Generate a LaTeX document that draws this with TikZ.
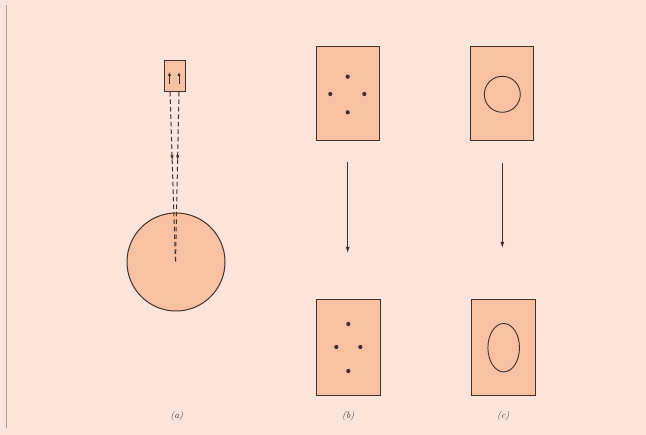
\documentclass[tikz,border=0pt]{standalone}
\usetikzlibrary{arrows.meta,decorations.markings}
\definecolor{paper}{HTML}{FDE4DA}
\definecolor{slab}{HTML}{F8C2A2}
\definecolor{ink}{HTML}{3E302C}
\definecolor{edge}{HTML}{A89E99}
\tikzset{
  plate/.style={draw=ink, line width=1pt, fill=slab, inner sep=0pt},
  spot/.style={circle, fill=ink, inner sep=0pt, minimum size=4.2pt},
  ray/.style={draw=ink, line width=1pt, dash pattern=on 4.5pt off 3pt},
  raytip/.style={postaction={decorate}, decoration={markings,
      mark=at position #1 with {\arrow{Latex[length=5pt,width=3.4pt]}}}},
  flow/.style={draw=ink, line width=0.8pt, -{Latex[length=6pt,width=3.8pt]}},
  caption/.style={font=\fontsize{9.5}{11}\selectfont\itshape, text=ink}
}
\begin{document}
\begin{tikzpicture}[x=1pt, y=-1pt]
  \useasboundingbox (0,0) rectangle (646,435);
  \fill[paper] (0,0) rectangle (646,435);
  \draw[edge, line width=1.2pt] (6.5,5) -- (6.5,428);

  % (a) small source block and the disk below it
  \node[plate, circle, minimum size=98pt] (disk) at (176,262) {};
  \node[plate, minimum width=21pt, minimum height=31pt] (src) at (174.5,76.5) {};
  \coordinate (focus) at (175.5,263);
  \coordinate (l0) at (170,92);
  \coordinate (r0) at (179,92);
  \draw[ray, raytip=0.4] (l0) -- (focus);
  \draw[ray, raytip=0.4] (r0) -- (focus);
  \coordinate (la) at (169.5,84);
  \coordinate (lb) at (169.5,72);
  \coordinate (ra) at (179,84);
  \coordinate (rb) at (179,72);
  \draw[draw=ink, line width=1pt, -{Latex[length=4pt,width=3.4pt]}] (la) -- (lb);
  \draw[draw=ink, line width=1pt, -{Latex[length=4pt,width=3.4pt]}] (ra) -- (rb);

  % (b) four dots before and after
  \node[plate, minimum width=63pt, minimum height=94pt] (b1) at (347.5,94) {};
  \node[spot] (b1n) at (347.7,76.7) {};
  \node[spot] (b1w) at (330.3,94) {};
  \node[spot] (b1e) at (364.3,94) {};
  \node[spot] (b1s) at (347.7,112.3) {};
  \node[plate, minimum width=64pt, minimum height=96pt] (b2) at (348,348) {};
  \node[spot] (b2n) at (348.3,324) {};
  \node[spot] (b2w) at (336.3,347) {};
  \node[spot] (b2e) at (360.3,347) {};
  \node[spot] (b2s) at (348.3,371) {};
  \coordinate (bt) at (347.7,162);
  \coordinate (bh) at (347.7,253);
  \draw[flow] (bt) -- (bh);

  % (c) circle before, ellipse after
  \node[plate, minimum width=63pt, minimum height=94pt] (c1) at (502.4,94) {};
  \draw[ink, line width=0.9pt] (502.3,94.3) circle (18pt);
  \node[plate, minimum width=64pt, minimum height=96pt] (c2) at (503.7,348) {};
  \draw[ink, line width=0.9pt] (503.7,347.7) ellipse (15.8pt and 24.2pt);
  \coordinate (ct) at (502.3,163);
  \coordinate (ch) at (502.3,248);
  \draw[flow] (ct) -- (ch);

  % panel captions
  \node[caption] (capa) at (176.7,416.5) {(a)};
  \node[caption] (capb) at (348.3,416.5) {(b)};
  \node[caption] (capc) at (503.3,416.5) {(c)};
\end{tikzpicture}
\end{document}
